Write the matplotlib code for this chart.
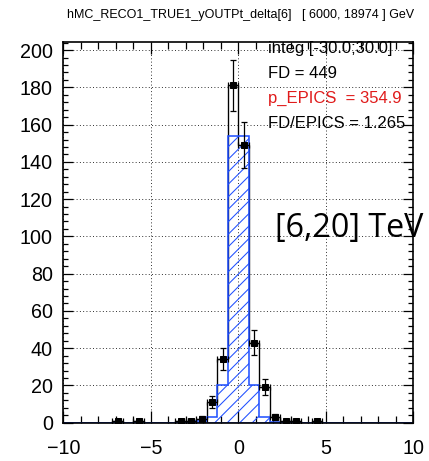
import numpy as np
import matplotlib
matplotlib.use('Agg')
import matplotlib.pyplot as plt
from matplotlib.ticker import MultipleLocator

# bins of the histogram: 100 bins in [-30, 30]
bordas = np.linspace(-30, 30, 101)

# FD (black points), bin centers and counts
fd_x = [-6.9, -5.7, -3.3, -2.7, -2.1, -1.5, -0.9, -0.3, 0.3, 0.9, 1.5, 2.1, 2.7, 3.3, 4.5]
fd_n = [1, 1, 1, 1, 2, 11, 34, 181, 149, 43, 19, 3, 1, 1, 1]

# EPICS (blue hatched histogram)
epics_x = [-2.1, -1.5, -0.9, -0.3, 0.3, 0.9, 1.5, 2.1]
epics_w = [0.7, 2.8, 20, 154, 154, 20, 2.8, 0.6]

titulo = 'hMC_RECO1_TRUE1_yOUTPt_delta[6]   [ 6000, 18974 ] GeV'
textos = ['integ [-30.0;30.0]', 'FD = 449', 'p_EPICS  = 354.9', 'FD/EPICS = 1.265']
cores_textos = ['black', 'black', '#e01b1b', 'black']

DPI = 75
W, H = 429, 461
fig = plt.figure(figsize=(W / DPI, H / DPI), dpi=DPI)
ax = fig.add_axes([63.3 / W, 1 - 422.7 / H, 350 / W, 381 / H])

plt.rcParams['hatch.linewidth'] = 1.0
azul = '#1f4fff'

ax.hist(fd_x, bins=bordas, weights=fd_n, histtype='step', color='black', lw=1.3, zorder=2.2)
ax.hist(epics_x, bins=bordas, weights=epics_w, histtype='stepfilled', facecolor='none',
        edgecolor=azul, hatch='//', lw=1.5, zorder=2.3)
ax.errorbar(fd_x, fd_n, xerr=0.3, yerr=np.sqrt(fd_n), fmt='s', color='black',
            ms=6.5, capsize=3, elinewidth=1.2, capthick=1.2, zorder=4)

ax.set_xlim(-10, 10)
ax.set_ylim(0, 204.5)
ax.xaxis.set_major_locator(MultipleLocator(5))
ax.xaxis.set_minor_locator(MultipleLocator(1))
ax.yaxis.set_major_locator(MultipleLocator(20))
ax.yaxis.set_minor_locator(MultipleLocator(4))
ax.grid(True, which='major', color='#222222', linestyle=(0, (1, 2.5)), lw=0.9)
ax.set_axisbelow(True)

fonte = 'Liberation Sans'
ax.tick_params(axis='both', which='both', direction='in', top=True, right=True, width=1.2)
ax.tick_params(axis='x', which='major', length=11.5, pad=16)
ax.tick_params(axis='x', which='minor', length=6.7)
ax.tick_params(axis='y', which='major', length=9.5, pad=10)
ax.tick_params(axis='y', which='minor', length=5)
for lab in ax.get_xticklabels() + ax.get_yticklabels():
    lab.set_fontfamily(fonte)
    lab.set_fontsize(19)
for s in ax.spines.values():
    s.set_linewidth(1.6)
    s.set_zorder(3)

fig.text(241 / W, 1 - 15 / H, titulo, ha='center', va='center', fontsize=12, family=fonte)

bases = [53.3, 78.3, 103.3, 127.5]
for t, c, b in zip(textos, cores_textos, bases):
    fig.text(268 / W, 1 - b / H, t, ha='left', va='baseline', fontsize=16, family=fonte, color=c)

fig.text(275 / W, 1 - 237 / H, '[6,20] TeV', ha='left', va='baseline', fontsize=31,
         family='Open Sans', color='black')

fig.savefig('out.png', dpi=DPI)
